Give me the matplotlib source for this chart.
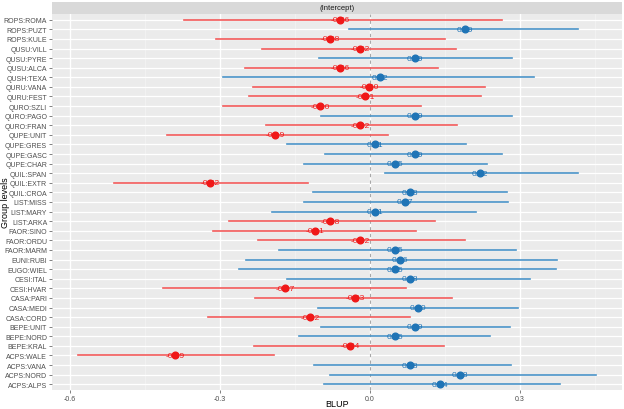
import matplotlib
matplotlib.use("Agg")
import matplotlib.pyplot as plt
import numpy as np

# group levels, listed top to bottom as in the chart
levels = [
    "ROPS:ROMA", "ROPS:PUZT", "ROPS:KULE", "QUSU:VILL", "QUSU:PYRE",
    "QUSU:ALCA", "QUSH:TEXA", "QURU:VANA", "QURU:FEST", "QURO:SZLI",
    "QURO:PAGO", "QURO:FRAN", "QUPE:UNIT", "QUPE:GRES", "QUPE:GASC",
    "QUPE:CHAR", "QUIL:SPAN", "QUIL:EXTR", "QUIL:CROA", "LIST:MISS",
    "LIST:MARY", "LIST:ARKA", "FAOR:SINO", "FAOR:ORDU", "FAOR:MARM",
    "EUNI:RUBI", "EUGO:WIEL", "CESI:ITAL", "CESI:HVAR", "CASA:PARI",
    "CASA:MEDI", "CASA:CORD", "BEPE:UNIT", "BEPE:NORD", "BEPE:KRAL",
    "ACPS:WALE", "ACPS:VANA", "ACPS:NORD", "ACPS:ALPS",
]
blup = [
    -0.06, 0.19, -0.08, -0.02, 0.09,
    -0.06, 0.02, -0.002, -0.01, -0.10,
    0.09, -0.02, -0.19, 0.01, 0.09,
    0.05, 0.22, -0.32, 0.08, 0.07,
    0.01, -0.08, -0.11, -0.02, 0.05,
    0.06, 0.05, 0.08, -0.17, -0.03,
    0.096, -0.12, 0.09, 0.05, -0.04,
    -0.39, 0.08, 0.18, 0.14,
]
ci_low = [
    -0.372, -0.042, -0.308, -0.216, -0.102,
    -0.250, -0.294, -0.234, -0.242, -0.294,
    -0.098, -0.208, -0.406, -0.166, -0.090,
    -0.132, 0.030, -0.512, -0.114, -0.132,
    -0.196, -0.282, -0.314, -0.224, -0.182,
    -0.248, -0.262, -0.166, -0.414, -0.230,
    -0.104, -0.324, -0.098, -0.142, -0.232,
    -0.584, -0.112, -0.080, -0.092,
]
ci_high = [
    0.264, 0.416, 0.150, 0.172, 0.284,
    0.136, 0.328, 0.230, 0.222, 0.102,
    0.284, 0.174, 0.036, 0.192, 0.264,
    0.234, 0.416, -0.124, 0.274, 0.276,
    0.212, 0.130, 0.092, 0.190, 0.292,
    0.374, 0.372, 0.320, 0.072, 0.164,
    0.296, 0.080, 0.280, 0.240, 0.148,
    -0.192, 0.282, 0.452, 0.380,
]
x_ticks = [-0.6, -0.3, 0.0, 0.3]

RED_LINE, RED_DOT = "#f25a5a", "#f01818"
BLUE_LINE, BLUE_DOT = "#4a94c8", "#1f74b6"

plt.rcParams["font.family"] = ["Liberation Sans", "DejaVu Sans"]

fig = plt.figure(figsize=(6.24, 4.10), dpi=100)
W, H = 624, 410
ax = fig.add_axes([52 / W, 19 / H, 570 / W, 376 / H])
strip = fig.add_axes([52 / W, 395 / H, 570 / W, 12 / H])

n = len(levels)
ypos = np.arange(n, 0, -1)

ax.set_facecolor("#ebebeb")
for sp in ax.spines.values():
    sp.set_visible(False)

# grid
for xm in [-0.45, -0.15, 0.15, 0.45]:
    ax.axvline(xm, color="#f5f5f5", lw=0.5, zorder=0)
for xt in x_ticks:
    ax.axvline(xt, color="white", lw=1.0, zorder=0)
for y in ypos:
    ax.axhline(y, color="white", lw=0.9, zorder=0)
ax.axvline(0, color="#a8a8a8", lw=0.8, ls=(0, (3, 3)), zorder=1)

for y, v, lo, hi in zip(ypos, blup, ci_low, ci_high):
    pos = v >= 0
    lc = BLUE_LINE if pos else RED_LINE
    dc = BLUE_DOT if pos else RED_DOT
    ax.plot([lo, hi], [y, y], color=lc, lw=1.2, zorder=2)
    ax.text(v, y, f"{v:.2f}", color=dc, fontsize=6, ha="center",
            va="center", zorder=3)
    ax.plot(v, y, "o", color=dc, ms=4.8, zorder=4)

ax.set_xlim(-0.636, 0.504)
ax.set_ylim(0.4, n + 0.6)
ax.set_xticks(x_ticks)
ax.set_xticklabels([f"{t:.1f}" for t in x_ticks])
ax.set_yticks(ypos)
ax.set_yticklabels(levels)
ax.tick_params(axis="both", labelsize=5, colors="#4d4d4d", length=2,
               width=0.5, pad=1.5)

# axis titles placed by hand so they stay inside the small canvas
fig.text((52 + 570 / 2) / W, 1 / H, "BLUP", fontsize=6.5, ha="center",
         va="bottom")
fig.text(1 / W, (19 + 376 / 2) / H, "Group levels", fontsize=6.5,
         rotation=90, ha="left", va="center")

strip.set_facecolor("#d9d9d9")
strip.set_xticks([])
strip.set_yticks([])
for sp in strip.spines.values():
    sp.set_visible(False)
strip.text(0.5, 0.5, "(Intercept)", fontsize=5.5, color="#1a1a1a",
           ha="center", va="center", transform=strip.transAxes)

fig.savefig("out.png", dpi=100)
